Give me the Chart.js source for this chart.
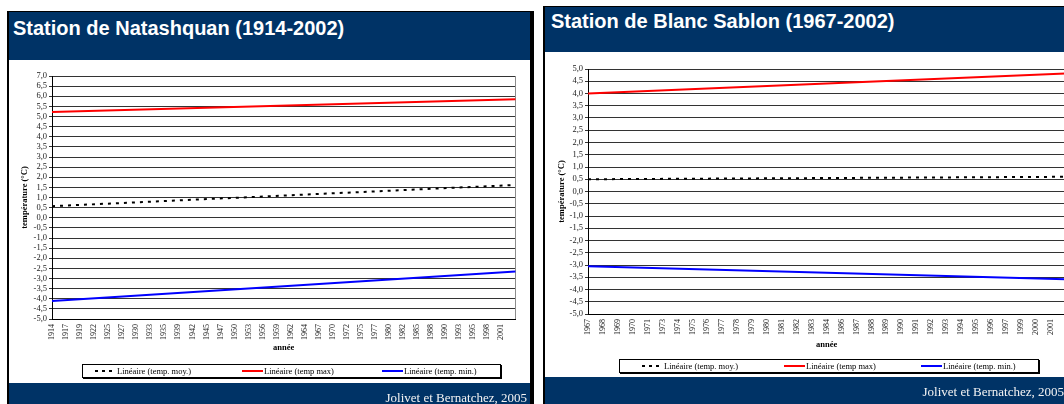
<!DOCTYPE html>
<html>
<head>
<meta charset="utf-8">
<script src="https://cdn.jsdelivr.net/npm/chart.js@4.4.0/dist/chart.umd.min.js"></script>
<style>
  html, body { margin: 0; padding: 0; background: #fff; width: 1064px; height: 404px; overflow: hidden; position: relative; }
  .panel { position: absolute; box-sizing: border-box; border-left: 2px solid #000; border-right: 4px solid #000; border-top: 1px solid #000; background: #fff; }
  .head { position: absolute; left: 0; right: 0; top: 0; background: #003366; }
  .head span { position: absolute; font: bold 20px "Liberation Sans", Arial, sans-serif; color: #fff; white-space: nowrap; line-height: 22px; }
  .foot { position: absolute; left: 0; right: 0; height: 60px; background: #003366; }
  .foot span { position: absolute; right: 3px; top: 7px; font: 13px "Liberation Serif", "Times New Roman", serif; color: #f4f4f4; white-space: nowrap; line-height: 16px; }
  .legend { position: absolute; box-sizing: border-box; height: 14px; border: 1px solid #000; box-shadow: 1px 1px 0 #000; background: #fff; font: 8.5px "Liberation Serif", "Times New Roman", serif; color: #000; }
  .item { position: absolute; top: 0; height: 12px; display: flex; align-items: center; white-space: nowrap; }
  .sw { display: inline-block; width: 21px; height: 2px; margin-right: 1px; }
  .sw.moy { background: repeating-linear-gradient(to right, #000 0 3px, transparent 3px 7px); }
  .sw.max { background: #ff0000; }
  .sw.min { background: #0000ff; }
  canvas { position: absolute; }
</style>
</head>
<body>

<div class="panel" style="left:7px; top:11px; width:527px; height:420px;">
  <div class="head" style="height:48px;"><span style="left:4px; top:5px;">Station de Natashquan (1914-2002)</span></div>
  <canvas id="natashquan" width="521" height="323" style="left:0; top:48px; width:521px; height:323px;"></canvas>
  <div class="legend" style="left:73px; top:352px; width:419px;">
    <div class="item" style="left:12px;"><span class="sw moy"></span>Linéaire (temp. moy.)</div>
    <div class="item" style="left:159px;"><span class="sw max"></span>Linéaire (temp max)</div>
    <div class="item" style="left:299px;"><span class="sw min"></span>Linéaire (temp. min.)</div>
  </div>
  <div class="foot" style="top:371px;"><span>Jolivet et Bernatchez, 2005</span></div>
</div>

<div class="panel" style="left:543px; top:6px; width:528px; height:420px;">
  <div class="head" style="height:45px;"><span style="left:6px; top:3px;">Station de Blanc Sablon (1967-2002)</span></div>
  <canvas id="blancsablon" width="535" height="325" style="left:0; top:45px; width:535px; height:325px;"></canvas>
  <div class="legend" style="left:74px; top:352px; width:420px;">
    <div class="item" style="left:22px;"><span class="sw moy"></span>Linéaire (temp. moy.)</div>
    <div class="item" style="left:164px;"><span class="sw max"></span>Linéaire (temp max)</div>
    <div class="item" style="left:301px;"><span class="sw min"></span>Linéaire (temp. min.)</div>
  </div>
  <div class="foot" style="top:370px;"><span>Jolivet et Bernatchez, 2005</span></div>
</div>

<script>
// Natashquan: year labels on the category axis and linear trend end values (°C)
const natYears = ['1914','1917','1919','1922','1925','1927','1930','1933','1935','1939','1942','1945','1947','1950','1953','1956','1959','1962','1964','1967','1970','1972','1975','1977','1980','1982','1985','1988','1990','1993','1995','1998','2001'];
const natMoy = [0.57, 1.62];
const natMax = [5.22, 5.85];
const natMin = [-4.11, -2.66];
const natYTicks = { min: -5, max: 7, step: 0.5 };

// Blanc Sablon: year labels and linear trend end values (°C)
const bsYears = ['1967','1968','1969','1970','1971','1973','1974','1975','1976','1977','1978','1979','1980','1981','1982','1983','1984','1986','1987','1988','1989','1990','1991','1992','1993','1994','1995','1996','1997','1999','2000','2001'];
const bsMoy = [0.50, 0.60];
const bsMax = [4.00, 4.82];
const bsMin = [-3.05, -3.58];
const bsYTicks = { min: -5, max: 5, step: 0.5 };

const SERIF = '"Liberation Serif", "Times New Roman", serif';

// the trend runs to the last data year, which carries no label of its own
function categories(years) { return years.concat(['']); }

// a trend line is fixed by its first and last values; the library joins them
function trend(ends, n) {
  const arr = new Array(n).fill(null);
  arr[0] = ends[0];
  arr[n - 1] = ends[1];
  return arr;
}

// thin grey frame on the right side of the plot area
const plotFrame = {
  id: 'plotFrame',
  beforeDatasetsDraw(chart) {
    const { ctx, chartArea: a } = chart;
    ctx.save();
    ctx.strokeStyle = '#8c8c8c';
    ctx.lineWidth = 1;
    ctx.beginPath();
    ctx.moveTo(Math.round(a.right) + 0.5, a.top);
    ctx.lineTo(Math.round(a.right) + 0.5, a.bottom);
    ctx.stroke();
    ctx.restore();
  }
};

function drawStation(id, years, moy, max, min, yr, geo) {
  const labels = categories(years);
  const n = labels.length;
  new Chart(document.getElementById(id), {
    type: 'line',
    data: {
      labels: labels,
      datasets: [
        { label: 'Linéaire (temp. moy.)', data: trend(moy, n), borderColor: '#000', borderWidth: 2, borderDash: [3, 5], pointRadius: 0, spanGaps: true, tension: 0 },
        { label: 'Linéaire (temp max)', data: trend(max, n), borderColor: '#ff0000', borderWidth: 2, pointRadius: 0, spanGaps: true, tension: 0 },
        { label: 'Linéaire (temp. min.)', data: trend(min, n), borderColor: '#0000ff', borderWidth: 2, pointRadius: 0, spanGaps: true, tension: 0 }
      ]
    },
    options: {
      responsive: false,
      animation: false,
      devicePixelRatio: 1,
      layout: { padding: geo.padding },
      plugins: { legend: { display: false }, tooltip: { enabled: false } },
      scales: {
        x: {
          type: 'category',
          offset: false,
          ticks: { autoSkip: false, maxRotation: 90, minRotation: 90, padding: 5, color: '#222', font: { family: SERIF, size: 8 } },
          grid: { display: false, drawTicks: false },
          border: { display: true, color: '#000', width: 1 },
          title: { display: true, text: 'année', color: '#000', font: { family: SERIF, size: 8.5, weight: 'bold' }, padding: { top: 0, bottom: 6 } },
          afterFit(s) { s.height = geo.xHeight; }
        },
        y: {
          min: yr.min,
          max: yr.max,
          ticks: {
            stepSize: yr.step,
            maxTicksLimit: 40,
            autoSkip: false,
            padding: 2,
            color: '#222',
            font: { family: SERIF, size: 8.5 },
            callback: v => v.toFixed(1).replace('.', ',')
          },
          grid: { color: '#333', lineWidth: 1, drawTicks: true, tickLength: 3 },
          border: { display: true, color: '#000', width: 1 },
          title: { display: true, text: 'température (°C)', color: '#000', font: { family: SERIF, size: 8.5, weight: 'bold' }, padding: { top: geo.yTitlePad, bottom: 0 } },
          afterFit(s) { s.width = geo.yWidth; }
        }
      }
    },
    plugins: [plotFrame]
  });
}

drawStation('natashquan', natYears, natMoy, natMax, natMin, natYTicks,
  { padding: { left: 0, top: 16, right: 7, bottom: 24 }, xHeight: 40, yWidth: 43, yTitlePad: 11 });
drawStation('blancsablon', bsYears, bsMoy, bsMax, bsMin, bsYTicks,
  { padding: { left: 0, top: 17, right: 8, bottom: 21 }, xHeight: 42, yWidth: 43, yTitlePad: 12 });
</script>
</body>
</html>
